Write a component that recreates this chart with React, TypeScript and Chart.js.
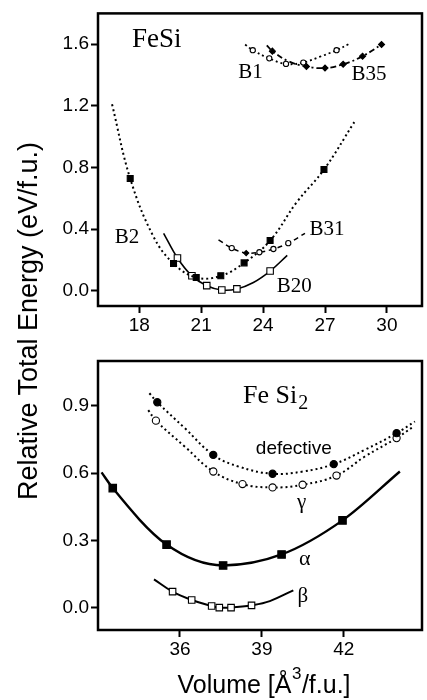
import React, { useEffect, useRef } from "react";
import { Chart, registerables } from "chart.js";
Chart.register(...registerables);

const SANS = "'Liberation Sans', Arial, Helvetica, sans-serif";
const SERIF = "'Liberation Serif', 'Times New Roman', serif";

// ---------- FeSi panel ----------
const feSiXTicks = [18, 21, 24, 27, 30];
const feSiYTicks = [0, 0.4, 0.8, 1.2, 1.6];

const b2Volume = [16.68, 17.56, 18.69, 19.66, 20.76, 21.95, 23.08, 24.34, 25.63, 26.95, 28.42];
const b2Energy = [1.21, 0.728, 0.35, 0.176, 0.085, 0.096, 0.18, 0.325, 0.574, 0.786, 1.094];
const b2Marked = [0, 1, 0, 1, 1, 1, 1, 1, 0, 1, 0];

const b20Volume = [19.18, 19.85, 20.55, 21.27, 22.0, 22.73, 23.53, 24.34, 25.17];
const b20Energy = [0.372, 0.212, 0.096, 0.032, 0.004, 0.011, 0.053, 0.127, 0.229];
const b20Marked = [0, 1, 1, 1, 1, 1, 0, 1, 0];

const b31Volume = [21.84, 22.48, 23.18, 23.82, 24.5, 25.22, 26.03];
const b31Energy = [0.33, 0.276, 0.244, 0.249, 0.27, 0.308, 0.372];
const b31Marked = [0, 1, 2, 1, 1, 1, 0];

const b1Volume = [23.13, 23.5, 24.3, 25.11, 25.95, 26.76, 27.56, 28.2];
const b1Energy = [1.598, 1.561, 1.508, 1.472, 1.481, 1.519, 1.561, 1.604];
const b1Marked = [0, 1, 1, 1, 1, 0, 1, 0];

const b35Volume = [24.18, 24.45, 25.22, 26.1, 27.0, 27.88, 28.82, 29.74];
const b35Energy = [1.593, 1.555, 1.49, 1.455, 1.445, 1.47, 1.522, 1.598];
const b35Marked = [0, 1, 0, 1, 1, 1, 1, 1];

// ---------- FeSi2 panel ----------
const feSi2XTicks = [36, 39, 42];
const feSi2YTicks = [0, 0.3, 0.6, 0.9];

const defVolume = [34.88, 35.17, 36.18, 37.22, 38.15, 39.39, 40.5, 41.63, 42.77, 43.93, 44.6];
const defEnergy = [0.956, 0.916, 0.8, 0.681, 0.629, 0.597, 0.607, 0.64, 0.704, 0.778, 0.83];
const defMarked = [0, 1, 0, 1, 0, 1, 0, 1, 0, 1, 0];

const gammaVolume = [34.84, 35.12, 36.18, 37.22, 38.29, 39.39, 40.49, 41.73, 42.77, 43.93, 44.54];
const gammaEnergy = [0.881, 0.834, 0.718, 0.607, 0.551, 0.536, 0.548, 0.589, 0.674, 0.756, 0.807];
const gammaMarked = [0, 1, 0, 1, 1, 1, 1, 1, 0, 1, 0];

const alphaVolume = [33.13, 33.54, 35.51, 37.58, 39.72, 41.95, 44.05];
const alphaEnergy = [0.603, 0.533, 0.281, 0.188, 0.237, 0.389, 0.607];
const alphaMarked = [0, 1, 1, 1, 1, 1, 0];

const betaVolume = [35.05, 35.73, 36.43, 37.16, 37.44, 37.87, 38.62, 39.29, 40.15];
const betaEnergy = [0.126, 0.071, 0.034, 0.007, 0.0, 0.0, 0.01, 0.029, 0.077];
const betaMarked = [0, 1, 1, 1, 1, 1, 1, 0, 0];

type Label = { text: string; x: number; y: number; size: number; family: string; sub?: string };

const feSiLabels: Label[] = [
  { text: "FeSi", x: 18.85, y: 1.581, size: 27, family: SERIF },
  { text: "B1", x: 23.39, y: 1.381, size: 21, family: SERIF },
  { text: "B35", x: 29.13, y: 1.37, size: 21, family: SERIF },
  { text: "B2", x: 17.4, y: 0.308, size: 21, family: SERIF },
  { text: "B31", x: 27.1, y: 0.361, size: 21, family: SERIF },
  { text: "B20", x: 25.51, y: -0.011, size: 21, family: SERIF },
];

const feSi2Labels: Label[] = [
  { text: "Fe Si", x: 38.31, y: 0.912, size: 26, family: SERIF, sub: "2" },
  { text: "defective", x: 40.17, y: 0.686, size: 19, family: SANS },
  { text: "γ", x: 40.45, y: 0.446, size: 21, family: SERIF },
  { text: "α", x: 40.57, y: 0.192, size: 22, family: SERIF },
  { text: "β", x: 40.5, y: 0.024, size: 21, family: SERIF },
];

type Style = {
  dash: number[];
  width: number;
  marker: string;
  radius: number;
  filled: boolean;
  monotone?: boolean;
};

function series(vol: number[], en: number[], marked: number[], s: Style) {
  return {
    data: vol.map((v, i) => ({ x: v, y: en[i] })),
    borderColor: "#000",
    borderWidth: s.width,
    borderDash: s.dash,
    borderCapStyle: "butt",
    tension: 0.4,
    cubicInterpolationMode: s.monotone ? "monotone" : "default",
    fill: false,
    pointRadius: marked.map((m) => (m ? s.radius : 0)),
    pointStyle: marked.map((m) => (m === 2 ? "rectRot" : s.marker)),
    pointBackgroundColor: marked.map((m) => (m === 2 || s.filled ? "#000" : "#fff")),
    pointBorderColor: "#000",
    pointBorderWidth: 1.1,
    pointHoverRadius: 0,
  };
}

function drawLabels(chart: any, labels: Label[]) {
  const { ctx, scales } = chart;
  const xs = scales.x;
  const ys = scales.y;
  ctx.save();
  ctx.fillStyle = "#000";
  for (const l of labels) {
    ctx.font = `${l.size}px ${l.family}`;
    const px = xs.getPixelForValue(l.x);
    const py = ys.getPixelForValue(l.y);
    ctx.textBaseline = "alphabetic";
    if (l.sub) {
      ctx.textAlign = "left";
      ctx.fillText(l.text, px, py);
      const w = ctx.measureText(l.text).width;
      ctx.font = `${Math.round(l.size * 0.75)}px ${l.family}`;
      ctx.fillText(l.sub, px + w + 1, py + 6);
    } else {
      ctx.textAlign = "center";
      ctx.fillText(l.text, px, py);
    }
  }
  ctx.restore();
}

function frame(chart: any) {
  const { ctx, chartArea: a } = chart;
  ctx.save();
  ctx.strokeStyle = "#000";
  ctx.lineWidth = 2.5;
  ctx.strokeRect(a.left, a.top, a.right - a.left, a.bottom - a.top);
  ctx.restore();
}

function axes(
  xMin: number, xMax: number, xTicks: number[],
  yMin: number, yMax: number, yTicks: number[],
  xHeight: number
) {
  const tickFont = { family: SANS, size: 19 };
  const grid = {
    display: true,
    drawOnChartArea: false,
    drawTicks: true,
    tickLength: 7,
    tickWidth: 2,
    tickColor: "#000",
  };
  return {
    x: {
      type: "linear",
      min: xMin,
      max: xMax,
      afterBuildTicks: (s: any) => {
        s.ticks = xTicks.map((v) => ({ value: v }));
      },
      afterFit: (s: any) => {
        s.height = xHeight;
      },
      ticks: {
        font: tickFont,
        color: "#000",
        padding: 1,
        autoSkip: false,
        maxRotation: 0,
        callback: (v: any) => String(v),
      },
      grid,
      border: { display: false },
    },
    y: {
      type: "linear",
      min: yMin,
      max: yMax,
      afterBuildTicks: (s: any) => {
        s.ticks = yTicks.map((v) => ({ value: v }));
      },
      afterFit: (s: any) => {
        s.width = 98;
      },
      ticks: {
        font: tickFont,
        color: "#000",
        padding: 2,
        autoSkip: false,
        callback: (v: any) => Number(v).toFixed(1),
      },
      grid,
      border: { display: false },
    },
  };
}

export default function App() {
  const topRef = useRef<HTMLCanvasElement>(null);
  const botRef = useRef<HTMLCanvasElement>(null);

  useEffect(() => {
    const dotted = [2, 3];
    const top = new Chart(topRef.current as HTMLCanvasElement, {
      type: "line",
      data: {
        datasets: [
          series(b1Volume, b1Energy, b1Marked, { dash: dotted, width: 1.8, marker: "circle", radius: 2.6, filled: false }),
          series(b35Volume, b35Energy, b35Marked, { dash: [6, 3, 2, 3], width: 1.8, marker: "rectRot", radius: 3, filled: true }),
          series(b31Volume, b31Energy, b31Marked, { dash: [5, 4], width: 1.5, marker: "circle", radius: 2.6, filled: false }),
          series(b2Volume, b2Energy, b2Marked, { dash: dotted, width: 2, marker: "rect", radius: 4.2, filled: true }),
          series(b20Volume, b20Energy, b20Marked, { dash: [], width: 1.6, marker: "rect", radius: 4.6, filled: false }),
        ] as any,
      },
      options: {
        animation: false,
        responsive: false,
        events: [],
        layout: { padding: { top: 7, right: 5, left: 0, bottom: 0 } },
        plugins: { legend: { display: false }, tooltip: { enabled: false } },
        scales: axes(16, 31.7, feSiXTicks, -0.1, 1.8, feSiYTicks, 34) as any,
      },
      plugins: [
        {
          id: "topDeco",
          afterDatasetsDraw: (c: any) => {
            frame(c);
            drawLabels(c, feSiLabels);
          },
        },
      ],
    });

    const bot = new Chart(botRef.current as HTMLCanvasElement, {
      type: "line",
      data: {
        datasets: [
          series(defVolume, defEnergy, defMarked, { dash: dotted, width: 2, marker: "circle", radius: 3.6, filled: true }),
          series(gammaVolume, gammaEnergy, gammaMarked, { dash: dotted, width: 2, marker: "circle", radius: 3.6, filled: false }),
          series(alphaVolume, alphaEnergy, alphaMarked, { dash: [], width: 2.4, marker: "rect", radius: 5.3, filled: true, monotone: true }),
          series(betaVolume, betaEnergy, betaMarked, { dash: [], width: 2, marker: "rect", radius: 4.6, filled: false }),
        ] as any,
      },
      options: {
        animation: false,
        responsive: false,
        events: [],
        layout: { padding: { top: 21, right: 5, left: 0, bottom: 0 } },
        plugins: { legend: { display: false }, tooltip: { enabled: false } },
        scales: axes(33, 44.86, feSi2XTicks, -0.1, 1.1, feSi2YTicks, 70) as any,
      },
      plugins: [
        {
          id: "botDeco",
          afterDatasetsDraw: (c: any) => {
            frame(c);
            drawLabels(c, feSi2Labels);
          },
          afterDraw: (c: any) => {
            const { ctx, chartArea: a } = c;
            ctx.save();
            ctx.fillStyle = "#000";
            ctx.textAlign = "left";
            ctx.textBaseline = "alphabetic";
            const main = `25px ${SANS}`;
            const sup = `17px ${SANS}`;
            const p1 = "Volume [Å";
            const p2 = "3";
            const p3 = "/f.u.]";
            ctx.font = main;
            const w1 = ctx.measureText(p1).width;
            const w3 = ctx.measureText(p3).width;
            ctx.font = sup;
            const w2 = ctx.measureText(p2).width;
            const total = w1 + w2 + w3 + 1;
            const cx = (a.left + a.right) / 2 + 4;
            const base = a.bottom + 63;
            let x0 = cx - total / 2;
            ctx.font = main;
            ctx.fillText(p1, x0, base);
            x0 += w1;
            ctx.font = sup;
            ctx.fillText(p2, x0 + 0.5, base - 14);
            x0 += w2 + 1;
            ctx.font = main;
            ctx.fillText(p3, x0, base);
            ctx.restore();
          },
        },
      ],
    });

    return () => {
      top.destroy();
      bot.destroy();
    };
  }, []);

  return (
    <div style={{ position: "absolute", left: 0, top: 0, width: 427, height: 700, background: "#fff", overflow: "hidden" }}>
      <canvas ref={topRef} width={427} height={340} style={{ position: "absolute", left: 0, top: 0, width: 427, height: 340 }} />
      <canvas ref={botRef} width={427} height={360} style={{ position: "absolute", left: 0, top: 340, width: 427, height: 360 }} />
      <div
        style={{
          position: "absolute",
          left: 28 - 200,
          top: 321 - 15,
          width: 400,
          height: 30,
          lineHeight: "30px",
          textAlign: "center",
          whiteSpace: "nowrap",
          fontFamily: SANS,
          fontSize: 27,
          color: "#000",
          transform: "rotate(-90deg)",
          transformOrigin: "50% 50%",
        }}
      >
        Relative Total Energy (eV/f.u.)
      </div>
    </div>
  );
}
